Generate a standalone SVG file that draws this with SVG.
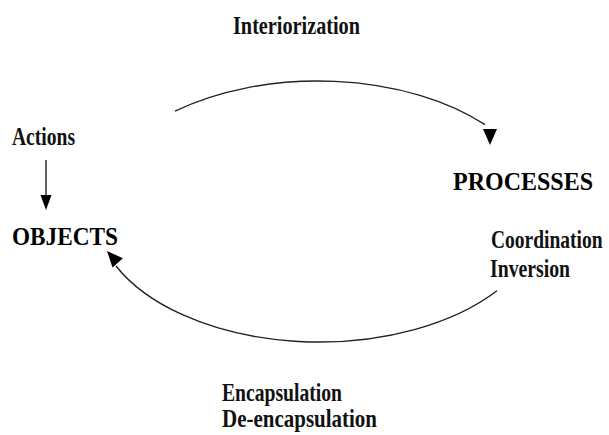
<svg xmlns="http://www.w3.org/2000/svg" width="609" height="435" viewBox="0 0 609 435">
  <style>
    .lbl { font-family: "Liberation Serif", "Times New Roman", serif; font-size: 25px; font-weight: bold; fill: #111; }
    .cap { font-family: "Liberation Serif", "Times New Roman", serif; font-size: 26px; font-weight: bold; fill: #000; }
    .arc { fill: none; stroke: #222; stroke-width: 1.4; }
    .line { fill: none; stroke: #222; stroke-width: 1.4; }
    .head { fill: #000; }
  </style>
  <defs>
    <path id="ah" d="M0,0 L-16,-7 L-16,7 Z"/>
    <path id="ahs" d="M0,0 L-15,-5.5 L-15,5.5 Z"/>
  </defs>
  <rect width="609" height="435" fill="#fff"/>
  <g id="connectors">
    <path class="arc" d="M175,111.2 A224,131 0 0,1 485,124.7"/>
    <use href="#ah" class="head" transform="translate(490,145) rotate(90)"/>
    <path class="arc" d="M497,290.8 A224,131 0 0,1 116,266"/>
    <use href="#ah" class="head" transform="translate(107,251) rotate(-132)"/>
    <line class="line" x1="46" y1="160" x2="46" y2="200"/>
    <use href="#ahs" class="head" transform="translate(46,210) rotate(90)"/>
  </g>
  <g id="interiorization"><text class="lbl" x="233" y="34" textLength="127" lengthAdjust="spacingAndGlyphs">Interiorization</text></g>
  <g id="actions"><text class="lbl" x="12" y="145" textLength="63" lengthAdjust="spacingAndGlyphs">Actions</text></g>
  <g id="objects"><text class="cap" x="12" y="245" textLength="106" lengthAdjust="spacingAndGlyphs">OBJECTS</text></g>
  <g id="processes"><text class="cap" x="453" y="190" textLength="140" lengthAdjust="spacingAndGlyphs">PROCESSES</text></g>
  <g id="coordination"><text class="lbl" style="font-size:19.5px" transform="translate(491,248) scale(1,1.27)" x="0" y="0">Coordination</text></g>
  <g id="inversion"><text class="lbl" x="490" y="277" textLength="80" lengthAdjust="spacingAndGlyphs">Inversion</text></g>
  <g id="encapsulation"><text class="lbl" x="222" y="401" textLength="120" lengthAdjust="spacingAndGlyphs">Encapsulation</text></g>
  <g id="deencapsulation"><text class="lbl" x="222" y="427" textLength="155" lengthAdjust="spacingAndGlyphs">De-encapsulation</text></g>
</svg>
